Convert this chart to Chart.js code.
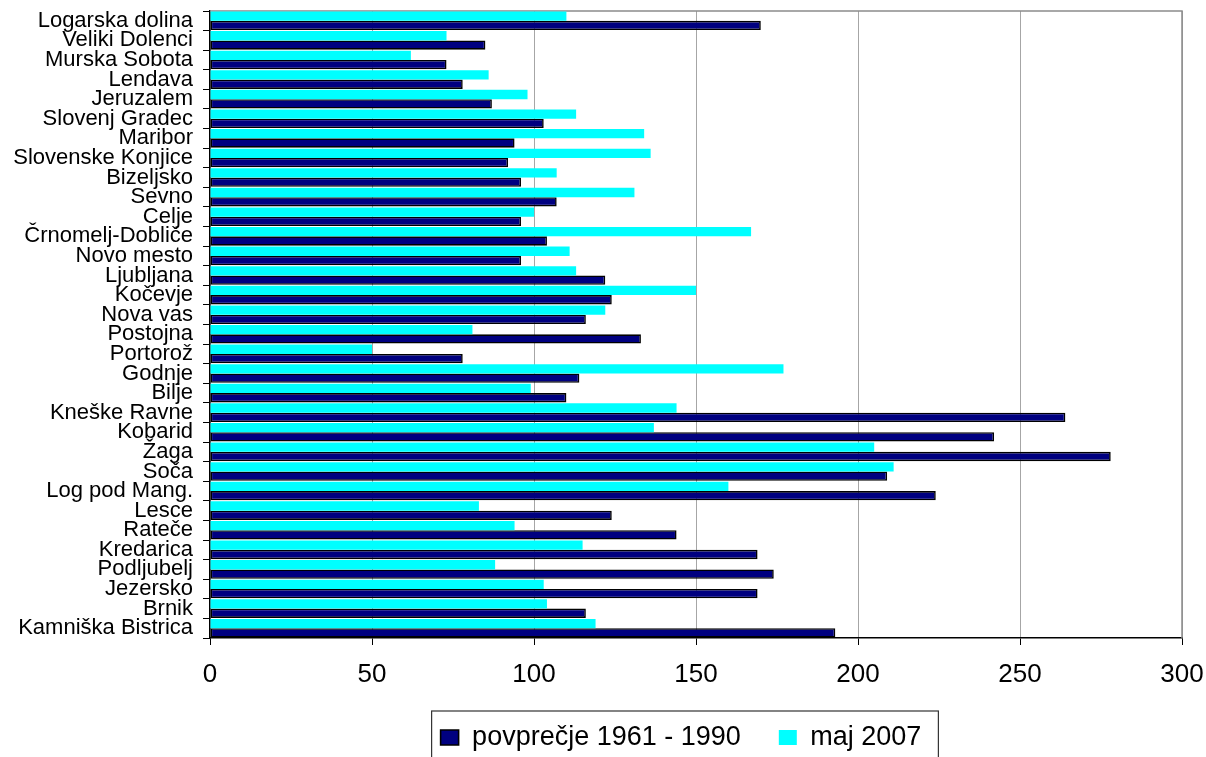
<!DOCTYPE html>
<html>
<head>
<meta charset="utf-8">
<script src="https://cdn.jsdelivr.net/npm/chart.js@4/dist/chart.umd.min.js"></script>
<style>
  html, body { margin: 0; padding: 0; background: #ffffff; overflow: hidden; }
  #wrap { position: relative; width: 1206px; height: 761px; }
</style>
</head>
<body>
<div id="wrap"><canvas id="chart"></canvas></div>
<script>
// Stations, top to bottom
const stations = [
  'Logarska dolina', 'Veliki Dolenci', 'Murska Sobota', 'Lendava', 'Jeruzalem',
  'Slovenj Gradec', 'Maribor', 'Slovenske Konjice', 'Bizeljsko', 'Sevno',
  'Celje', 'Črnomelj-Dobliče', 'Novo mesto', 'Ljubljana', 'Kočevje',
  'Nova vas', 'Postojna', 'Portorož', 'Godnje', 'Bilje',
  'Kneške Ravne', 'Kobarid', 'Žaga', 'Soča', 'Log pod Mang.',
  'Lesce', 'Rateče', 'Kredarica', 'Podljubelj', 'Jezersko',
  'Brnik', 'Kamniška Bistrica'
];

// Long-term average 1961 - 1990
const avg1961_1990 = [
  170, 85, 73, 78, 87,
  103, 94, 92, 96, 107,
  96, 104, 96, 122, 124,
  116, 133, 78, 114, 110,
  264, 242, 278, 209, 224,
  124, 144, 169, 174, 169,
  116, 193
];

// May 2007
const may2007 = [
  110, 73, 62, 86, 98,
  113, 134, 136, 107, 131,
  100, 167, 111, 113, 150,
  122, 81, 50, 177, 99,
  144, 137, 205, 211, 160,
  83, 94, 115, 88, 103,
  104, 119
];

// Value axis ticks
const valueTicks = [0, 50, 100, 150, 200, 250, 300];

const FONT = 'Liberation Sans, Arial, Helvetica, sans-serif';
const NAVY = '#000080';
const CYAN = '#00FFFF';
const LEGEND_SHIFT = 78;

// Plot frame: grey top and right edges
const plotFrame = {
  id: 'plotFrame',
  beforeDatasetsDraw(chart) {
    const { ctx, chartArea: a } = chart;
    ctx.save();
    ctx.strokeStyle = '#8c8c8c';
    ctx.lineWidth = 1.5;
    ctx.beginPath();
    ctx.moveTo(a.left, a.top);
    ctx.lineTo(a.right, a.top);
    ctx.lineTo(a.right, a.bottom);
    ctx.stroke();
    ctx.restore();
  }
};

// Move the legend a little to the right and frame it
const legendBox = {
  id: 'legendBox',
  afterLayout(chart) {
    const lg = chart.legend;
    if (lg) { lg.left += LEGEND_SHIFT; lg.right += LEGEND_SHIFT; }
  },
  afterDraw(chart) {
    const lg = chart.legend;
    if (!lg || !lg.legendHitBoxes || !lg.legendHitBoxes.length) return;
    const hb = lg.legendHitBoxes;
    let l = Infinity, r = -Infinity, t = Infinity, b = -Infinity;
    hb.forEach(h => {
      l = Math.min(l, h.left); r = Math.max(r, h.left + h.width);
      t = Math.min(t, h.top); b = Math.max(b, h.top + h.height);
    });
    const ctx = chart.ctx;
    ctx.save();
    ctx.strokeStyle = '#333333';
    ctx.lineWidth = 1.2;
    ctx.strokeRect(l - 9, t - 13, (r - l) + 26, (b - t) + 30);
    ctx.restore();
  }
};

new Chart(document.getElementById('chart'), {
  type: 'bar',
  data: {
    labels: stations,
    datasets: [
      {
        label: 'maj 2007',
        data: may2007,
        backgroundColor: CYAN,
        borderColor: CYAN,
        borderWidth: 0,
        categoryPercentage: 0.95,
        barPercentage: 1.0
      },
      {
        label: 'povprečje 1961 - 1990',
        data: avg1961_1990,
        backgroundColor: NAVY,
        borderColor: '#000000',
        borderWidth: 1.6,
        borderSkipped: false,
        categoryPercentage: 0.95,
        barPercentage: 1.0
      }
    ]
  },
  options: {
    indexAxis: 'y',
    responsive: true,
    maintainAspectRatio: false,
    animation: false,
    layout: { padding: { top: 11, right: 0, left: 0, bottom: 0 } },
    plugins: {
      tooltip: { enabled: false },
      legend: {
        position: 'bottom',
        reverse: true,
        labels: {
          color: '#000000',
          font: { family: FONT, size: 27 },
          boxWidth: 18,
          boxHeight: 15,
          padding: 38
        }
      }
    },
    scales: {
      x: {
        min: 0,
        max: 300,
        afterBuildTicks(scale) {
          scale.ticks = valueTicks.map(v => ({ value: v }));
        },
        afterFit(scale) {
          scale.height = 48;
          scale.paddingLeft = 0;
          scale.paddingRight = 24;
        },
        ticks: {
          color: '#000000',
          font: { family: FONT, size: 26 },
          padding: 14,
          maxRotation: 0
        },
        grid: {
          color: '#a6a6a6',
          lineWidth: 1,
          tickColor: '#000000',
          tickLength: 7
        },
        border: { color: '#000000', width: 1.5 }
      },
      y: {
        afterFit(scale) {
          scale.width = 210;
          scale.paddingTop = 0;
          scale.paddingBottom = 0;
        },
        ticks: {
          color: '#000000',
          font: { family: FONT, size: 22 },
          padding: 10,
          autoSkip: false
        },
        grid: {
          offset: true,
          drawOnChartArea: false,
          tickColor: '#000000',
          tickLength: 7,
          lineWidth: 1
        },
        border: { color: '#000000', width: 1.5 }
      }
    }
  },
  plugins: [plotFrame, legendBox]
});
</script>
</body>
</html>
